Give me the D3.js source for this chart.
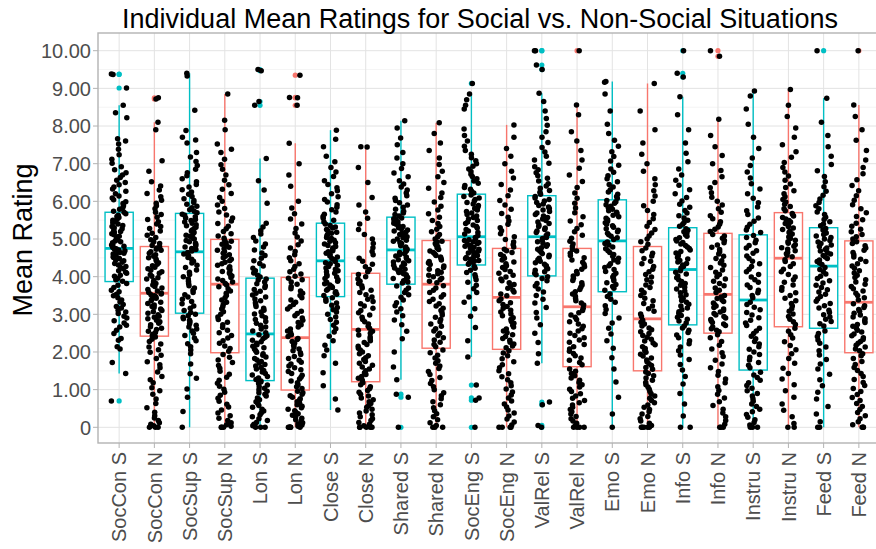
<!DOCTYPE html>
<html>
<head>
<meta charset="utf-8">
<script src="https://cdn.jsdelivr.net/npm/d3@7/dist/d3.min.js"></script>
<style>
  html, body { margin: 0; padding: 0; background: #fff; }
  svg { display: block; font-family: "Liberation Sans", Arial, sans-serif; }
</style>
</head>
<body>
<svg id="chart" width="876" height="549"></svg>
<script>
// Categories along the x axis (S = social, N = non-social)
const categories = ["SocCon S","SocCon N","SocSup S","SocSup N","Lon S","Lon N","Close S","Close N",
  "Shared S","Shared N","SocEng S","SocEng N","ValRel S","ValRel N","Emo S","Emo N",
  "Info S","Info N","Instru S","Instru N","Feed S","Feed N"];
const situation = ["S","N","S","N","S","N","S","N","S","N","S","N","S","N","S","N","S","N","S","N","S","N"];

// Box summaries per category
const q1s      = [3.87,2.42,3.03,1.98,1.24,0.99,3.47,1.21,3.80,2.10,4.31,2.07,4.02,1.61,3.60,1.50,2.72,2.50,1.52,2.67,2.63,1.98];
const medians  = [4.75,3.56,4.66,3.80,2.48,2.38,4.42,2.60,4.71,3.80,5.06,3.45,5.06,3.20,4.95,2.88,4.19,3.53,3.38,4.49,4.28,3.32];
const q3s      = [5.71,4.80,5.68,4.99,3.96,3.98,5.42,4.09,5.58,4.96,6.19,4.75,6.15,4.75,6.04,4.80,5.30,5.15,5.11,5.70,5.30,4.95];
const whiskLo  = [1.43,0,0,0,0,0,0.46,0,1.26,0,1.87,0,1.70,0,0,0,0,0,0,0,0,0];
const whiskHi  = [8.55,8.10,9.40,8.85,7.14,7.54,7.89,7.45,8.14,8.09,8.85,8.03,8.87,8.56,9.18,9.13,8.78,8.18,8.93,8.97,8.74,8.56];

// Individual mean ratings per participant
const SocCon_S = [0.70,1.43,1.72,2.08,2.14,2.31,2.36,2.49,2.58,2.66,2.71,2.77,2.83,2.90,2.95,3.02,3.06,3.11,3.17,3.21,3.26,3.33,3.38,3.44,3.49,3.53,3.60,3.64,3.71,3.77,3.82,
  3.88,3.92,3.95,4.01,4.04,4.09,4.12,4.16,4.21,4.24,4.27,4.31,4.35,4.38,4.42,4.44,4.48,4.51,4.53,4.57,4.60,4.62,4.64,4.67,4.69,4.71,4.72,4.74,4.75,4.76,
  4.78,4.81,4.84,4.86,4.90,4.93,4.95,4.98,5.02,5.05,5.07,5.11,5.14,5.17,5.20,5.23,5.27,5.30,5.33,5.36,5.40,5.43,5.46,5.50,5.53,5.57,5.60,5.63,5.67,5.71,
  5.74,5.79,5.83,5.88,5.94,5.99,6.04,6.09,6.14,6.20,6.27,6.33,6.38,6.44,6.50,6.56,6.63,6.70,6.76,6.84,6.92,7.01,7.12,7.24,7.38,7.52,7.60,7.66,8.22,8.35,8.55,9.01,9.37,9.38];
const SocCon_N = [0,0,0,0.04,0.08,0.12,0.18,0.25,0.31,0.40,0.52,0.63,0.75,0.88,0.97,1.05,1.18,1.26,1.35,1.47,1.58,1.66,1.74,1.83,1.91,1.99,2.06,2.13,2.21,2.28,2.34,2.40,
  2.44,2.47,2.52,2.55,2.60,2.63,2.67,2.72,2.76,2.80,2.84,2.88,2.92,2.95,2.99,3.03,3.07,3.10,3.14,3.18,3.21,3.25,3.29,3.32,3.36,3.40,3.43,3.46,3.49,3.52,3.54,3.56,
  3.58,3.62,3.66,3.70,3.74,3.78,3.82,3.86,3.90,3.94,3.97,4.01,4.05,4.09,4.13,4.17,4.21,4.25,4.29,4.33,4.37,4.42,4.46,4.50,4.54,4.58,4.62,4.66,4.70,4.73,4.76,4.79,
  4.83,4.88,4.93,4.98,5.04,5.10,5.15,5.21,5.28,5.33,5.40,5.46,5.52,5.58,5.65,5.71,5.80,5.88,5.95,6.03,6.12,6.21,6.30,6.41,6.52,6.80,7.08,7.90,8.10,8.72,8.75];
const SocSup_S = [0,0.42,0.80,1.02,1.30,1.42,1.68,1.95,2.05,2.14,2.22,2.30,2.37,2.44,2.50,2.56,2.61,2.66,2.71,2.75,2.80,2.84,2.88,2.92,2.96,3.00,
  3.05,3.10,3.16,3.22,3.28,3.34,3.40,3.46,3.52,3.58,3.64,3.70,3.76,3.82,3.88,3.94,4.00,4.06,4.12,4.18,4.24,4.30,4.36,4.41,4.46,4.51,4.56,4.60,4.64,
  4.68,4.72,4.75,4.79,4.82,4.86,4.89,4.93,4.96,5.00,5.03,5.07,5.10,5.14,5.17,5.21,5.24,5.28,5.31,5.35,5.38,5.42,5.45,5.49,5.52,5.56,5.59,5.63,5.66,
  5.70,5.74,5.78,5.83,5.87,5.92,5.97,6.02,6.07,6.13,6.19,6.25,6.31,6.38,6.45,6.52,6.60,6.68,6.76,6.85,6.95,7.06,7.18,7.30,7.55,7.63,7.70,7.88,8.42,9.33,9.40];
const SocSup_N = [0,0,0,0.03,0.07,0.12,0.18,0.24,0.31,0.38,0.46,0.54,0.61,0.69,0.77,0.85,0.93,1.01,1.09,1.17,1.25,1.33,1.41,1.49,1.57,1.64,1.72,1.79,1.86,1.93,
  2.02,2.09,2.16,2.23,2.30,2.37,2.44,2.51,2.58,2.65,2.72,2.79,2.86,2.93,3.00,3.07,3.14,3.20,3.26,3.32,3.38,3.44,3.50,3.56,3.62,3.68,3.73,3.78,
  3.82,3.86,3.90,3.94,3.98,4.02,4.06,4.10,4.14,4.18,4.22,4.26,4.30,4.34,4.38,4.42,4.46,4.50,4.54,4.58,4.62,4.66,4.70,4.74,4.78,4.82,4.86,4.90,4.94,4.97,
  5.02,5.08,5.14,5.20,5.27,5.34,5.41,5.48,5.56,5.64,5.72,5.81,5.90,6.00,6.10,6.21,6.32,6.44,6.56,6.70,6.85,6.97,7.12,7.30,7.38,7.52,7.90,8.15,8.85];
const Lon_S = [0,0,0,0.04,0.08,0.13,0.18,0.23,0.28,0.33,0.38,0.43,0.48,0.53,0.58,0.63,0.68,0.73,0.78,0.83,0.88,0.92,0.96,1.00,1.04,1.08,1.12,1.16,1.20,1.23,
  1.27,1.31,1.35,1.39,1.43,1.47,1.51,1.55,1.59,1.63,1.67,1.71,1.75,1.79,1.83,1.87,1.91,1.95,1.99,2.03,2.07,2.11,2.15,2.19,2.23,2.27,2.31,2.35,2.39,2.43,2.46,
  2.51,2.56,2.61,2.66,2.71,2.76,2.81,2.86,2.91,2.96,3.01,3.06,3.11,3.16,3.21,3.26,3.31,3.36,3.41,3.46,3.51,3.56,3.61,3.66,3.71,3.76,3.81,3.86,3.91,3.94,
  3.99,4.04,4.10,4.16,4.22,4.28,4.35,4.42,4.49,4.56,4.63,4.71,4.79,4.87,4.95,5.04,5.13,5.22,5.32,5.42,5.95,6.30,6.55,7.14,8.55,8.65,9.47,9.50];
const Lon_N = [0,0,0,0,0,0,0.03,0.06,0.09,0.12,0.16,0.20,0.24,0.28,0.32,0.36,0.40,0.44,0.48,0.52,0.56,0.60,0.64,0.68,0.72,0.76,0.80,0.84,0.88,0.92,0.96,
  1.03,1.08,1.13,1.18,1.23,1.28,1.33,1.38,1.43,1.48,1.53,1.58,1.63,1.68,1.73,1.78,1.83,1.88,1.93,1.98,2.03,2.08,2.13,2.18,2.23,2.28,2.33,2.36,
  2.41,2.46,2.51,2.56,2.61,2.66,2.72,2.78,2.84,2.90,2.96,3.02,3.08,3.14,3.20,3.26,3.32,3.38,3.44,3.50,3.56,3.62,3.68,3.74,3.80,3.86,3.92,3.96,
  4.01,4.07,4.13,4.20,4.27,4.34,4.42,4.50,4.58,4.67,4.76,4.85,4.95,5.05,5.16,5.28,5.40,5.53,5.67,5.82,6.00,6.40,6.70,7.00,7.54,8.55,8.75,8.76,9.35];
const Close_S = [0.46,0.75,1.10,1.45,1.70,1.90,2.05,2.18,2.30,2.42,2.53,2.62,2.71,2.79,2.86,2.93,3.00,3.06,3.12,3.18,3.24,3.30,3.35,3.40,3.44,
  3.50,3.53,3.57,3.60,3.64,3.67,3.71,3.74,3.78,3.81,3.85,3.88,3.92,3.95,3.99,4.02,4.06,4.09,4.13,4.16,4.20,4.23,4.27,4.30,4.34,4.37,4.40,
  4.45,4.48,4.52,4.55,4.59,4.62,4.66,4.69,4.73,4.76,4.80,4.83,4.87,4.90,4.94,4.97,5.01,5.04,5.08,5.11,5.15,5.18,5.22,5.25,5.29,5.32,5.36,5.40,
  5.45,5.50,5.55,5.60,5.66,5.72,5.78,5.84,5.91,5.98,6.05,6.12,6.20,6.28,6.36,6.45,6.55,6.66,6.78,6.90,7.05,7.20,7.45,7.65,7.89];
const Close_N = [0,0,0,0,0,0.04,0.08,0.13,0.18,0.23,0.28,0.33,0.38,0.43,0.48,0.53,0.58,0.63,0.68,0.73,0.78,0.83,0.88,0.93,0.98,1.03,1.08,1.13,1.18,
  1.25,1.30,1.35,1.40,1.45,1.50,1.55,1.60,1.65,1.70,1.75,1.80,1.85,1.90,1.95,2.00,2.05,2.10,2.15,2.20,2.25,2.30,2.35,2.40,2.45,2.50,2.55,2.58,
  2.63,2.68,2.74,2.80,2.86,2.92,2.98,3.04,3.10,3.16,3.22,3.28,3.34,3.40,3.46,3.52,3.58,3.64,3.70,3.76,3.82,3.88,3.94,4.00,4.06,
  4.13,4.19,4.26,4.33,4.41,4.49,4.58,4.67,4.77,4.88,5.00,5.12,5.25,5.40,5.55,5.72,5.90,6.10,6.50,6.90,7.44,7.45];
const Shared_S = [0,0.80,0.88,1.26,1.60,2.00,2.35,2.55,2.72,2.85,2.96,3.06,3.15,3.23,3.31,3.38,3.45,3.52,3.58,3.64,3.70,3.75,
  3.83,3.86,3.89,3.92,3.95,3.98,4.01,4.05,4.08,4.11,4.14,4.17,4.20,4.23,4.26,4.30,4.33,4.36,4.39,4.42,4.45,4.48,4.52,4.55,4.58,4.61,4.64,4.67,4.69,
  4.73,4.76,4.79,4.82,4.85,4.88,4.91,4.94,4.97,5.00,5.03,5.06,5.09,5.12,5.15,5.18,5.21,5.24,5.27,5.30,5.33,5.36,5.39,5.42,5.45,5.48,5.51,5.54,5.56,
  5.61,5.65,5.69,5.74,5.79,5.84,5.90,5.96,6.02,6.08,6.15,6.22,6.30,6.38,6.46,6.55,6.65,6.75,6.87,7.00,7.15,7.30,7.50,7.68,7.95,8.14];
const Shared_N = [0,0,0,0.05,0.12,0.20,0.28,0.36,0.44,0.52,0.60,0.68,0.76,0.84,0.92,1.00,1.08,1.16,1.24,1.32,1.40,1.48,1.56,1.63,1.70,1.77,1.84,1.91,1.98,2.05,
  2.14,2.20,2.26,2.32,2.38,2.44,2.50,2.56,2.62,2.68,2.74,2.80,2.86,2.92,2.98,3.04,3.10,3.16,3.22,3.28,3.34,3.40,3.46,3.52,3.58,3.64,3.70,3.76,
  3.84,3.88,3.92,3.96,4.00,4.04,4.08,4.12,4.16,4.20,4.24,4.28,4.32,4.36,4.40,4.44,4.48,4.52,4.56,4.60,4.64,4.68,4.72,4.76,4.80,4.84,4.88,4.92,4.94,
  5.00,5.06,5.12,5.19,5.26,5.33,5.41,5.49,5.58,5.67,5.77,5.87,5.98,6.10,6.22,6.35,6.50,6.65,6.80,6.98,7.15,7.35,7.55,7.80,8.09];
const SocEng_S = [0,0.72,0.78,1.12,1.87,2.30,2.65,2.95,3.15,3.32,3.46,3.58,3.68,3.77,3.85,3.92,3.99,4.05,4.11,4.17,4.22,4.27,
  4.33,4.36,4.38,4.41,4.43,4.46,4.48,4.51,4.53,4.56,4.58,4.61,4.63,4.66,4.68,4.71,4.73,4.76,4.78,4.81,4.83,4.86,4.88,4.91,4.93,4.96,4.98,5.01,5.04,
  5.09,5.13,5.17,5.21,5.25,5.29,5.33,5.37,5.41,5.45,5.49,5.53,5.57,5.61,5.65,5.69,5.73,5.77,5.81,5.85,5.89,5.93,5.97,6.01,6.05,6.09,6.13,6.17,
  6.22,6.27,6.32,6.37,6.42,6.48,6.54,6.60,6.66,6.72,6.79,6.86,6.93,7.00,7.08,7.16,7.25,7.35,7.46,7.60,7.75,7.92,8.45,8.55,8.70,8.85,9.13];
const SocEng_N = [0,0,0,0,0.06,0.14,0.22,0.30,0.38,0.46,0.54,0.62,0.70,0.78,0.86,0.94,1.02,1.10,1.18,1.26,1.34,1.42,1.50,1.58,1.66,1.74,1.82,1.90,1.97,2.03,
  2.11,2.16,2.21,2.26,2.31,2.36,2.41,2.46,2.51,2.56,2.61,2.66,2.71,2.76,2.81,2.86,2.91,2.96,3.01,3.06,3.11,3.16,3.21,3.26,3.31,3.36,3.41,
  3.49,3.54,3.59,3.64,3.69,3.74,3.79,3.84,3.89,3.94,3.99,4.04,4.09,4.14,4.19,4.24,4.29,4.34,4.39,4.44,4.49,4.54,4.59,4.64,4.69,4.73,
  4.79,4.85,4.92,4.99,5.06,5.14,5.22,5.30,5.39,5.48,5.58,5.68,5.79,5.90,6.02,6.15,6.30,6.45,6.62,6.80,7.00,7.20,7.40,7.70,8.03];
const ValRel_S = [0,0.05,0.60,0.67,1.70,1.95,2.25,2.50,2.72,2.90,3.05,3.18,3.30,3.40,3.50,3.59,3.67,3.75,3.82,3.89,3.95,4.00,
  4.05,4.09,4.13,4.17,4.21,4.25,4.29,4.33,4.37,4.41,4.45,4.49,4.53,4.57,4.61,4.65,4.69,4.73,4.77,4.81,4.85,4.89,4.93,4.97,5.01,5.04,
  5.09,5.13,5.17,5.21,5.25,5.29,5.33,5.37,5.41,5.45,5.49,5.53,5.57,5.61,5.65,5.69,5.73,5.77,5.81,5.85,5.89,5.93,5.97,6.01,6.05,6.09,6.13,
  6.19,6.24,6.29,6.35,6.41,6.47,6.54,6.61,6.68,6.76,6.84,6.92,7.01,7.10,7.20,7.31,7.43,7.56,7.70,7.85,8.02,8.20,8.40,8.65,8.87,9.50,9.62,10,10];
const ValRel_N = [0,0,0,0,0.05,0.11,0.17,0.23,0.29,0.35,0.41,0.47,0.53,0.59,0.65,0.71,0.77,0.83,0.89,0.95,1.01,1.07,1.13,1.19,1.25,1.31,1.37,1.43,1.49,1.55,
  1.66,1.72,1.78,1.84,1.90,1.96,2.02,2.08,2.14,2.20,2.26,2.32,2.38,2.44,2.50,2.56,2.62,2.68,2.74,2.80,2.86,2.92,2.98,3.04,3.10,3.16,
  3.25,3.30,3.36,3.42,3.48,3.54,3.60,3.66,3.72,3.78,3.84,3.90,3.96,4.02,4.08,4.14,4.20,4.26,4.32,4.38,4.44,4.50,4.56,4.62,4.68,4.72,
  4.80,4.87,4.94,5.02,5.10,5.19,5.28,5.38,5.48,5.59,5.70,5.82,5.95,6.08,6.22,6.37,6.53,6.70,6.88,7.10,7.35,7.60,7.85,8.30,8.56,10];
const Emo_S = [0,0.35,0.80,1.20,1.55,1.85,2.10,2.30,2.48,2.63,2.77,2.90,3.02,3.13,3.23,3.32,3.40,3.47,3.54,
  3.64,3.69,3.74,3.79,3.84,3.89,3.94,3.99,4.04,4.09,4.14,4.19,4.24,4.29,4.34,4.39,4.44,4.49,4.54,4.59,4.64,4.69,4.74,4.79,4.84,4.88,4.92,
  4.99,5.03,5.07,5.11,5.15,5.19,5.23,5.27,5.31,5.35,5.39,5.43,5.47,5.51,5.55,5.59,5.63,5.67,5.71,5.75,5.79,5.83,5.87,5.91,5.95,5.99,6.02,
  6.08,6.13,6.19,6.25,6.31,6.38,6.45,6.52,6.60,6.68,6.77,6.86,6.96,7.07,7.19,7.32,7.46,7.62,7.80,8.05,8.40,8.85,9.16,9.18];
const Emo_N = [0,0,0,0,0,0.05,0.11,0.17,0.23,0.29,0.35,0.41,0.47,0.53,0.59,0.65,0.71,0.77,0.83,0.89,0.95,1.01,1.07,1.13,1.19,1.25,1.31,1.37,1.43,1.47,
  1.54,1.59,1.64,1.69,1.74,1.79,1.84,1.89,1.94,1.99,2.04,2.09,2.14,2.19,2.24,2.29,2.34,2.39,2.44,2.49,2.54,2.59,2.64,2.69,2.74,2.79,2.84,
  2.94,3.01,3.08,3.15,3.22,3.29,3.36,3.43,3.50,3.57,3.64,3.71,3.78,3.85,3.92,3.99,4.06,4.13,4.20,4.27,4.34,4.41,4.48,4.55,4.62,4.69,4.76,
  4.86,4.93,5.00,5.08,5.16,5.25,5.34,5.44,5.54,5.65,5.76,5.88,6.00,6.14,6.28,6.44,6.60,6.80,7.00,7.25,7.55,7.90,8.40,9.13];
const Info_S = [0,0,0.30,0.62,0.90,1.15,1.35,1.52,1.67,1.80,1.92,2.03,2.13,2.22,2.30,2.38,2.45,2.52,2.58,2.64,2.69,
  2.77,2.82,2.87,2.92,2.97,3.02,3.07,3.12,3.17,3.22,3.27,3.32,3.37,3.42,3.47,3.52,3.57,3.62,3.67,3.72,3.77,3.82,3.87,3.92,3.97,4.02,4.07,4.12,4.16,
  4.23,4.27,4.31,4.35,4.39,4.43,4.47,4.51,4.55,4.59,4.63,4.67,4.71,4.75,4.79,4.83,4.87,4.91,4.95,4.99,5.03,5.07,5.11,5.15,5.19,5.23,5.27,
  5.34,5.39,5.44,5.50,5.56,5.62,5.69,5.76,5.84,5.92,6.01,6.10,6.20,6.31,6.43,6.56,6.70,6.86,7.05,7.28,7.55,7.90,8.30,8.78,9.30,9.40,10];
const Info_N = [0,0,0,0.08,0.18,0.28,0.38,0.48,0.58,0.68,0.78,0.88,0.98,1.08,1.18,1.28,1.38,1.48,1.58,1.68,1.78,1.88,1.98,2.08,2.18,2.28,2.38,2.46,
  2.54,2.58,2.62,2.66,2.70,2.74,2.78,2.82,2.86,2.90,2.94,2.98,3.02,3.06,3.10,3.14,3.18,3.22,3.26,3.30,3.34,3.38,3.42,3.46,3.50,
  3.58,3.64,3.70,3.76,3.82,3.88,3.94,4.00,4.06,4.12,4.18,4.24,4.30,4.36,4.42,4.48,4.54,4.60,4.66,4.72,4.78,4.84,4.90,4.96,5.02,5.08,5.12,
  5.20,5.26,5.32,5.39,5.46,5.54,5.62,5.71,5.80,5.90,6.00,6.11,6.23,6.36,6.50,6.65,6.82,7.00,7.22,7.45,7.75,8.18,9.85,10];
const Instru_S = [0,0,0,0.06,0.13,0.20,0.27,0.34,0.41,0.48,0.55,0.62,0.69,0.76,0.83,0.90,0.97,1.04,1.11,1.18,1.25,1.32,1.39,1.46,
  1.58,1.65,1.72,1.79,1.86,1.93,2.00,2.07,2.14,2.21,2.28,2.35,2.42,2.49,2.56,2.63,2.70,2.77,2.84,2.91,2.98,3.05,3.12,3.19,3.26,3.32,
  3.44,3.50,3.57,3.64,3.71,3.78,3.85,3.92,3.99,4.06,4.13,4.20,4.27,4.34,4.41,4.48,4.55,4.62,4.69,4.76,4.83,4.90,4.97,5.04,5.09,
  5.17,5.24,5.31,5.39,5.47,5.56,5.65,5.75,5.85,5.96,6.08,6.20,6.33,6.47,6.62,6.78,6.95,7.15,7.40,7.70,8.05,8.45,8.80,8.93];
const Instru_N = [0,0,0.10,0.28,0.45,0.62,0.80,0.97,1.13,1.28,1.43,1.57,1.70,1.83,1.95,2.06,2.17,2.27,2.37,2.46,2.55,2.63,
  2.73,2.80,2.87,2.94,3.01,3.08,3.15,3.22,3.29,3.36,3.43,3.50,3.57,3.64,3.71,3.78,3.85,3.92,3.99,4.06,4.13,4.20,4.27,4.34,4.40,4.45,
  4.53,4.57,4.61,4.65,4.69,4.73,4.77,4.81,4.85,4.89,4.93,4.97,5.01,5.05,5.09,5.13,5.17,5.21,5.25,5.29,5.33,5.37,5.41,5.45,5.49,5.53,5.57,5.61,5.65,5.68,
  5.75,5.80,5.86,5.92,5.98,6.05,6.12,6.20,6.28,6.37,6.46,6.56,6.67,6.78,6.90,7.03,7.17,7.32,7.50,7.70,7.95,8.25,8.55,8.97];
const Feed_S = [0,0,0.15,0.35,0.55,0.75,0.93,1.10,1.26,1.41,1.55,1.68,1.80,1.92,2.03,2.13,2.23,2.32,2.41,2.49,2.56,
  2.69,2.75,2.81,2.87,2.93,2.99,3.05,3.11,3.17,3.23,3.29,3.35,3.41,3.47,3.53,3.59,3.65,3.71,3.77,3.83,3.89,3.95,4.01,4.07,4.13,4.19,4.24,
  4.32,4.36,4.40,4.44,4.48,4.52,4.56,4.60,4.64,4.68,4.72,4.76,4.80,4.84,4.88,4.92,4.96,5.00,5.04,5.08,5.12,5.16,5.20,5.24,5.28,
  5.35,5.40,5.46,5.52,5.58,5.65,5.72,5.80,5.88,5.97,6.06,6.16,6.27,6.39,6.52,6.66,6.81,6.98,7.20,7.45,7.75,8.10,8.74,10];
const Feed_N = [0,0,0,0.07,0.15,0.23,0.31,0.39,0.47,0.55,0.63,0.71,0.79,0.87,0.95,1.03,1.11,1.19,1.27,1.35,1.43,1.51,1.59,1.67,1.75,1.83,1.90,1.95,
  2.03,2.08,2.13,2.18,2.23,2.28,2.33,2.38,2.43,2.48,2.53,2.58,2.63,2.68,2.73,2.78,2.83,2.88,2.93,2.98,3.03,3.08,3.13,3.18,3.23,3.28,
  3.38,3.44,3.50,3.56,3.62,3.68,3.74,3.80,3.86,3.92,3.98,4.04,4.10,4.16,4.22,4.28,4.34,4.40,4.46,4.52,4.58,4.64,4.70,4.76,4.82,4.88,4.93,
  5.00,5.06,5.12,5.19,5.26,5.34,5.42,5.51,5.60,5.70,5.80,5.91,6.03,6.15,6.28,6.42,6.57,6.73,6.90,7.10,7.35,7.62,7.90,8.25,8.56,10];

const ratingSets = [SocCon_S, SocCon_N, SocSup_S, SocSup_N, Lon_S, Lon_N, Close_S, Close_N,
  Shared_S, Shared_N, SocEng_S, SocEng_N, ValRel_S, ValRel_N, Emo_S, Emo_N,
  Info_S, Info_N, Instru_S, Instru_N, Feed_S, Feed_N];

const yTicks = [0,1,2,3,4,5,6,7,8,9,10];
const yTickLabels = ["0","1.00","2.00","3.00","4.00","5.00","6.00","7.00","8.00","9.00","10.00"];

const titleText = "Individual Mean Ratings for Social vs. Non-Social Situations";
const yTitle = "Mean Rating";

// ---- layout ----
const panel = { left: 98, right: 880, top: 33, bottom: 443 };
const colour = { S: "#00BFC4", N: "#F8766D" };

const svg = d3.select("#chart");

const x = d3.scalePoint().domain(categories).range([panel.left, panel.right]).padding(0.6);
const y = d3.scaleLinear().domain([0, 10]).range([427.3, 50.7]);
const boxW = x.step() * 0.8;

// panel background + grid
const grid = svg.append("g");
grid.append("rect").attr("x", panel.left).attr("y", panel.top)
  .attr("width", panel.right - panel.left).attr("height", panel.bottom - panel.top).attr("fill", "#fff");

const minorTicks = d3.range(-0.5, 10.51, 1).filter(v => y(v) > panel.top && y(v) < panel.bottom);
grid.selectAll("line.minor").data(minorTicks).join("line")
  .attr("x1", panel.left).attr("x2", panel.right)
  .attr("y1", d => y(d)).attr("y2", d => y(d))
  .attr("stroke", "#f1f1f1").attr("stroke-width", 0.8);
grid.selectAll("line.majorY").data(yTicks).join("line")
  .attr("x1", panel.left).attr("x2", panel.right)
  .attr("y1", d => y(d)).attr("y2", d => y(d))
  .attr("stroke", "#e3e3e3").attr("stroke-width", 1);
grid.selectAll("line.majorX").data(categories).join("line")
  .attr("x1", d => x(d)).attr("x2", d => x(d))
  .attr("y1", panel.top).attr("y2", panel.bottom)
  .attr("stroke", "#e3e3e3").attr("stroke-width", 1);

// boxplots
const boxes = svg.append("g");
categories.forEach((cat, i) => {
  const cx = x(cat);
  const col = colour[situation[i]];
  const g = boxes.append("g");
  // whiskers
  g.append("line").attr("x1", cx).attr("x2", cx).attr("y1", y(q3s[i])).attr("y2", y(whiskHi[i]))
    .attr("stroke", col).attr("stroke-width", 1.4);
  g.append("line").attr("x1", cx).attr("x2", cx).attr("y1", y(q1s[i])).attr("y2", y(whiskLo[i]))
    .attr("stroke", col).attr("stroke-width", 1.4);
  // box
  g.append("rect").attr("x", cx - boxW / 2).attr("width", boxW)
    .attr("y", y(q3s[i])).attr("height", y(q1s[i]) - y(q3s[i]))
    .attr("fill", "#fff").attr("stroke", col).attr("stroke-width", 1.4);
  // median
  g.append("line").attr("x1", cx - boxW / 2).attr("x2", cx + boxW / 2)
    .attr("y1", y(medians[i])).attr("y2", y(medians[i]))
    .attr("stroke", col).attr("stroke-width", 2.8);
  // outliers beyond whiskers
  const outl = ratingSets[i].filter(v => v < whiskLo[i] || v > whiskHi[i]);
  g.selectAll("circle").data(outl).join("circle")
    .attr("cx", cx).attr("cy", d => y(d)).attr("r", 2.6).attr("fill", col);
});

// jittered participant points
function jitter(i, g) {
  const s = Math.sin(i * 12.9898 + g * 78.233) * 43758.5453;
  return (s - Math.floor(s)) * 2 - 1;
}
const jw = x.step() * 0.22;
const pts = svg.append("g");
ratingSets.forEach((vals, g) => {
  const cx = x(categories[g]);
  pts.selectAll(null).data(vals).join("circle")
    .attr("cx", (d, i) => cx + jitter(i, g) * jw)
    .attr("cy", d => y(d))
    .attr("r", 2.75).attr("fill", "#000");
});

// panel border
svg.append("rect").attr("x", panel.left).attr("y", panel.top)
  .attr("width", panel.right - panel.left).attr("height", panel.bottom - panel.top)
  .attr("fill", "none").attr("stroke", "#b3b3b3").attr("stroke-width", 1.4);

// y axis
const yAxis = svg.append("g");
yAxis.selectAll("line").data(yTicks).join("line")
  .attr("x1", panel.left - 5).attr("x2", panel.left).attr("y1", d => y(d)).attr("y2", d => y(d))
  .attr("stroke", "#b3b3b3").attr("stroke-width", 1);
yAxis.selectAll("text").data(yTicks).join("text")
  .attr("x", panel.left - 7).attr("y", d => y(d)).attr("dy", "0.36em")
  .attr("text-anchor", "end").attr("font-size", 20).attr("fill", "#4d4d4d")
  .text((d, i) => yTickLabels[i]);

// x axis
const xAxis = svg.append("g");
xAxis.selectAll("line").data(categories).join("line")
  .attr("x1", d => x(d)).attr("x2", d => x(d)).attr("y1", panel.bottom).attr("y2", panel.bottom + 5)
  .attr("stroke", "#b3b3b3").attr("stroke-width", 1);
xAxis.selectAll("text").data(categories).join("text")
  .attr("transform", d => `translate(${x(d)},${panel.bottom + 9}) rotate(-90)`)
  .attr("dy", "0.36em").attr("text-anchor", "end")
  .attr("font-size", 20).attr("fill", "#4d4d4d")
  .text(d => d);

// titles
svg.append("text").attr("x", 480).attr("y", 28).attr("text-anchor", "middle")
  .attr("font-size", 27).attr("fill", "#000").text(titleText);
svg.append("text").attr("transform", `translate(32,240) rotate(-90)`)
  .attr("text-anchor", "middle").attr("font-size", 27).attr("fill", "#000").text(yTitle);
</script>
</body>
</html>
